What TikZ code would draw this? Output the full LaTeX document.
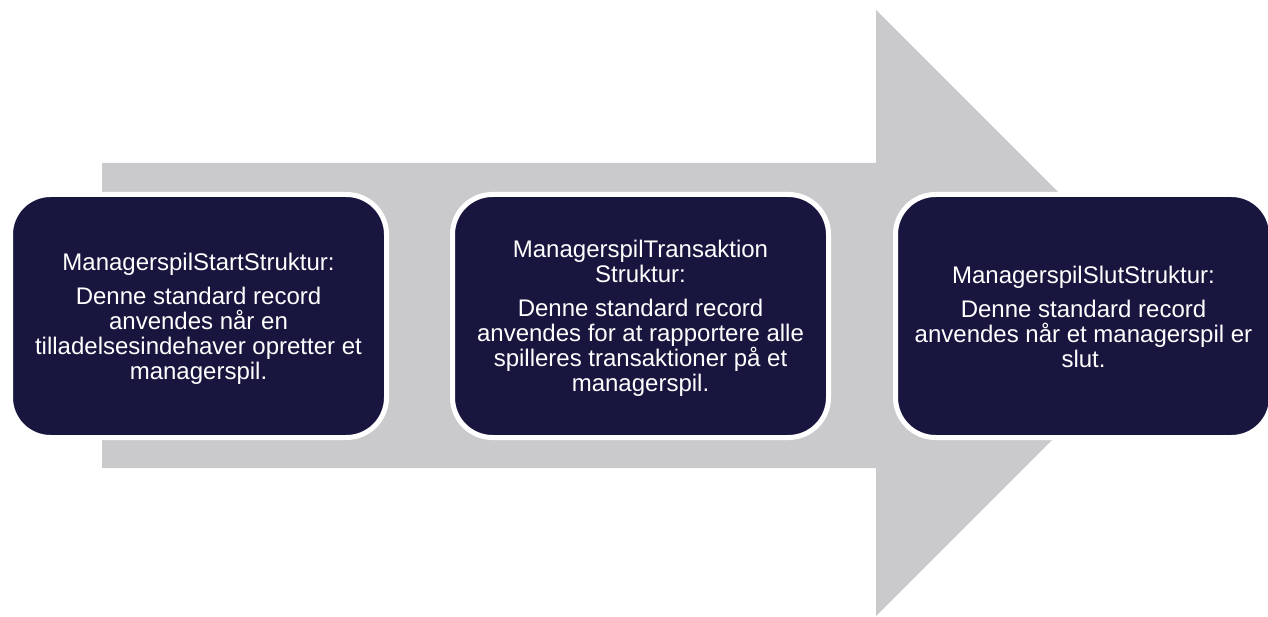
\documentclass[tikz,border=0pt]{standalone}
\usepackage{fontspec}
\setmainfont{Liberation Sans}
\definecolor{navy}{RGB}{24,22,62}
\definecolor{arrowgray}{RGB}{202,202,204}
\begin{document}
\begin{tikzpicture}[x=1pt,y=-1pt,
  stagebox/.style={draw=white, line width=5pt, fill=navy, rounded corners=40pt,
    minimum width=376pt, minimum height=243pt, inner sep=0pt},
  stagetext/.style={text=white, align=center, inner sep=0pt,
    font=\fontsize{24}{25}\selectfont}]
\useasboundingbox (0,0) rectangle (1268,617);
\begin{scope}
\clip (0,0) rectangle (1268,617);
% big gray arrow
\fill[arrowgray] (102,163) -- (876,163) -- (876,10) -- (1179,313) -- (876,616) -- (876,468) -- (102,468) -- cycle;
\node[stagebox] (s1) at (198.5,316) {};
\node[stagebox] (s2) at (640.5,316) {};
\node[stagebox] (s3) at (1083.5,316) {};
\node[stagetext] (t1) at ([yshift=-3pt]s1.center) {ManagerspilStartStruktur:\\[9pt]Denne standard record\\anvendes når en\\tilladelsesindehaver opretter et\\managerspil.};
\node[stagetext] (t2) at ([yshift=-2pt]s2.center) {ManagerspilTransaktion\\Struktur:\\[9pt]Denne standard record\\anvendes for at rapportere alle\\spilleres transaktioner på et\\managerspil.};
\node[stagetext] (t3) at ([yshift=-1pt]s3.center) {ManagerspilSlutStruktur:\\[9pt]Denne standard record\\anvendes når et managerspil er\\slut.};
\end{scope}
\end{tikzpicture}
\end{document}
